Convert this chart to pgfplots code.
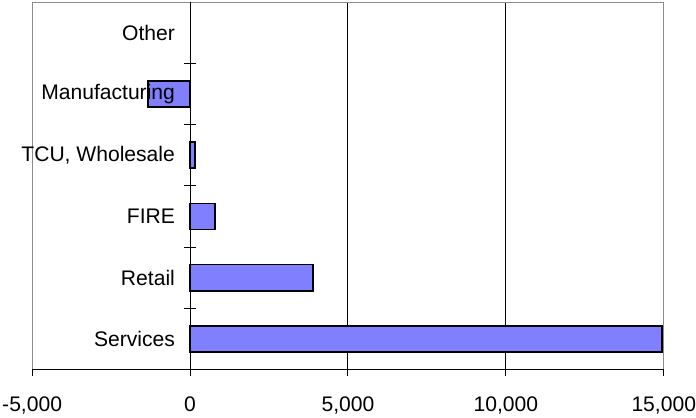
\documentclass[border=0pt]{standalone}
\usepackage{fontspec}
\setmainfont{Liberation Sans}
\usepackage{pgfplots}
\pgfplotsset{compat=1.18}

\definecolor{barblue}{RGB}{128,128,255}
\definecolor{framegray}{RGB}{140,140,140}

% employment change by sector
\pgfplotstableread{
val pos
14950 0
3890  1
785   2
150   3
-1335 4
}\sectordata

\pgfplotsset{
  common/.style={
    width=314.5pt, height=183pt, scale only axis,
    xmin=-5000, xmax=15000, ymin=-0.5, ymax=5.5,
    scaled x ticks=false, scaled y ticks=false,
    every tick label/.append style={font=\fontsize{10.5}{12}\selectfont},
  },
}

\begin{document}
\begin{tikzpicture}
% frame, grid and bars
\begin{axis}[
  common,
  axis line style={framegray},
  xtick={5000,10000}, xticklabels={}, major tick length=0pt,
  ytick=\empty,
  xmajorgrids, major grid style={black, line width=0.5pt},
]
\addplot[xbar, bar width=13pt, draw=black, line width=0.8pt, fill=barblue]
  table[x=val, y=pos] {\sectordata};
\end{axis}
% vertical axis at zero with category names
\begin{axis}[
  common,
  axis x line=none, axis y line=center,
  axis line style={-, black, line width=0.5pt},
  xtick=\empty,
  ytick={0,...,5},
  yticklabels={Services,Retail,FIRE,{TCU, Wholesale},Manufacturing,Other},
  yticklabel style={xshift=-4pt},
  minor ytick={0.5,1.5,2.5,3.5,4.5},
  major tick length=0pt, minor tick length=6pt, tick align=center,
  tick style={black, line width=0.5pt},
]
\end{axis}
% horizontal axis along the bottom
\begin{axis}[
  common, clip=false,
  axis x line=bottom, axis y line=none,
  axis line style={-, black, line width=0.5pt},
  ytick=\empty,
  xtick={-5000,0,5000,10000,15000},
  xticklabels={{-5,000},{0},{5,000},{10,000},{15,000}},
  xticklabel style={inner sep=0pt, yshift=-10.5pt},
  tick align=outside, major tick length=3pt,
  tick style={black, line width=0.5pt},
]
\path (rel axis cs:0,0) ++(-16pt,-24pt) (rel axis cs:1,1) ++(16pt,1pt);
\end{axis}
\end{tikzpicture}
\end{document}
